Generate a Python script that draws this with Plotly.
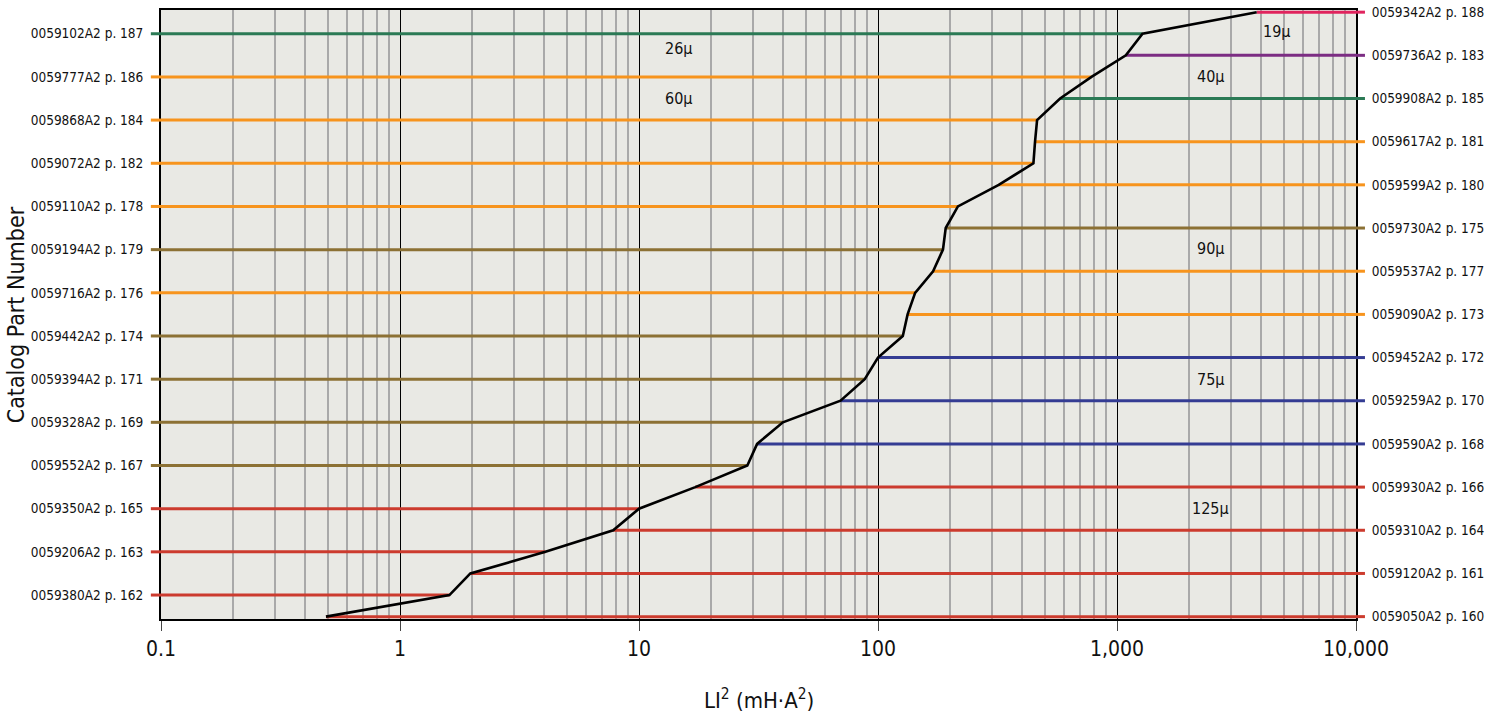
import math
import plotly.graph_objects as go

# ---- data (bottom row to top row) ----
part_labels = [
    "0059050A2 p. 160", "0059380A2 p. 162", "0059120A2 p. 161", "0059206A2 p. 163",
    "0059310A2 p. 164", "0059350A2 p. 165", "0059930A2 p. 166", "0059552A2 p. 167",
    "0059590A2 p. 168", "0059328A2 p. 169", "0059259A2 p. 170", "0059394A2 p. 171",
    "0059452A2 p. 172", "0059442A2 p. 174", "0059090A2 p. 173", "0059716A2 p. 176",
    "0059537A2 p. 177", "0059194A2 p. 179", "0059730A2 p. 175", "0059110A2 p. 178",
    "0059599A2 p. 180", "0059072A2 p. 182", "0059617A2 p. 181", "0059868A2 p. 184",
    "0059908A2 p. 185", "0059777A2 p. 186", "0059736A2 p. 183", "0059102A2 p. 187",
    "0059342A2 p. 188",
]
li2_values = [
    0.49, 1.61, 1.97, 4.06, 7.8, 10, 17.2, 28.4,
    31.2, 40, 69.7, 88, 100, 127, 133, 143,
    170, 187, 192, 216, 320, 447, 454, 463,
    578, 782, 1089, 1279, 3840,
]
permeability = [
    "125µ", "125µ", "125µ", "125µ", "125µ", "125µ", "125µ", "90µ",
    "75µ", "90µ", "75µ", "90µ", "75µ", "90µ", "60µ", "60µ",
    "60µ", "90µ", "90µ", "60µ", "60µ", "60µ", "60µ", "60µ",
    "26µ", "60µ", "40µ", "26µ", "19µ",
]
label_side = ["right" if i % 2 == 0 else "left" for i in range(len(part_labels))]
x_tick_vals = [0.1, 1, 10, 100, 1000, 10000]
x_tick_text = ["0.1", "1", "10", "100", "1,000", "10,000"]
x_title = "LI<sup>2</sup> (mH·A<sup>2</sup>)"
y_title = "Catalog Part Number"

# ---- styles ----
perm_colors = {
    "125µ": "#cc3b2e", "90µ": "#8c7134", "75µ": "#343c93", "60µ": "#f7941d",
    "26µ": "#2b7a55", "40µ": "#7c2d83", "19µ": "#e0245e",
}
FONT = "DejaVu Sans Condensed, Liberation Sans Narrow, sans-serif"
XMIN, XMAX = 0.1, 10000
YRANGE = [-0.11, 28.1]

rows = list(range(len(part_labels)))
fig = go.Figure()

shapes = []
for i, (v, side, perm) in enumerate(zip(li2_values, label_side, permeability)):
    col = perm_colors[perm]
    if side == "left":
        xs = [XMIN, v]
        stub = dict(x0=-0.0085, x1=0)
    else:
        xs = [v, XMAX]
        stub = dict(x0=1, x1=1.0075)
    fig.add_trace(go.Scatter(x=xs, y=[i, i], mode="lines",
                             line=dict(color=col, width=3),
                             hoverinfo="skip", showlegend=False))
    shapes.append(dict(type="line", xref="paper", yref="y", y0=i, y1=i,
                       line=dict(color=col, width=3), layer="above", **stub))

fig.add_trace(go.Scatter(x=li2_values, y=rows, mode="lines",
                         line=dict(color="black", width=2.6),
                         hoverinfo="skip", showlegend=False))
# invisible trace for right axis
fig.add_trace(go.Scatter(x=[XMIN], y=[0], yaxis="y2", mode="markers",
                         marker=dict(opacity=0), hoverinfo="skip", showlegend=False))

left_rows = [i for i in rows if label_side[i] == "left"]
right_rows = [i for i in rows if label_side[i] == "right"]

minor_vals = [m * d for d in [0.1, 1, 10, 100, 1000] for m in range(2, 10)]

# permeability annotations: (label, x, y)
perm_notes = [
    ("26µ", 14.6, 26.3), ("60µ", 14.6, 24.0), ("19µ", 4650, 27.1),
    ("40µ", 2470, 25.0), ("90µ", 2470, 17.07), ("75µ", 2470, 11.0),
    ("125µ", 2470, 5.02),
]
annotations = [dict(x=math.log10(x), y=y, xref="x", yref="y", text=t,
                    showarrow=False, font=dict(family=FONT, size=16, color="#111"))
               for t, x, y in perm_notes]
annotations.append(dict(x=0.5, y=-0.131, xref="paper", yref="paper", text=x_title,
                        showarrow=False, yanchor="middle",
                        font=dict(family=FONT, size=22, color="#111")))
annotations.append(dict(x=-0.1215, y=0.5, xref="paper", yref="paper", text=y_title,
                        showarrow=False, textangle=-90, xanchor="center",
                        font=dict(family=FONT, size=23, color="#111")))

fig.update_layout(
    width=1497, height=717,
    margin=dict(l=161, r=141, t=10, b=98),
    paper_bgcolor="white", plot_bgcolor="#e9e9e4",
    font=dict(family=FONT, color="#111"),
    shapes=shapes, annotations=annotations,
    xaxis=dict(
        type="log", range=[-1, 4], automargin=False,
        tickmode="array", tickvals=x_tick_vals, ticktext=x_tick_text,
        tickfont=dict(size=21, family=FONT, color="#111"),
        ticks="outside", ticklen=10, tickcolor="#444", tickwidth=1,
        showgrid=True, gridcolor="black", gridwidth=1,
        minor=dict(tickmode="array", tickvals=minor_vals, showgrid=True,
                   gridcolor="#a9a9a9", gridwidth=1.5, ticks=""),
        showline=True, linecolor="black", linewidth=2, mirror=True,
        zeroline=False,
    ),
    yaxis=dict(
        range=YRANGE, tickmode="array", tickvals=left_rows, automargin=False,
        ticktext=[part_labels[i] for i in left_rows],
        tickfont=dict(size=13.5, family=FONT, color="#111"),
        ticks="outside", ticklen=13, tickcolor="rgba(0,0,0,0)",
        showgrid=False, zeroline=False,
        showline=True, linecolor="black", linewidth=2, mirror=True,
    ),
    yaxis2=dict(
        range=YRANGE, overlaying="y", side="right", tickmode="array", automargin=False,
        tickvals=right_rows, ticktext=[part_labels[i] for i in right_rows],
        tickfont=dict(size=13.5, family=FONT, color="#111"),
        ticks="outside", ticklen=12, tickcolor="rgba(0,0,0,0)",
        showgrid=False, zeroline=False, showline=False,
    ),
)

fig.write_html("out.html", config={"displayModeBar": False},
               post_script="document.body.style.margin='0';")
